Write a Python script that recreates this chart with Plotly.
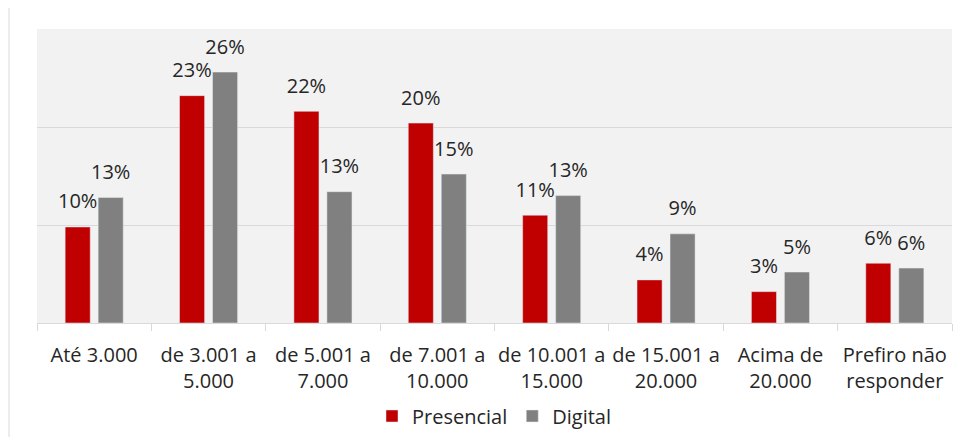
import plotly.graph_objects as go

categories = ["Até 3.000", "de 3.001 a<br>5.000", "de 5.001 a<br>7.000", "de 7.001 a<br>10.000",
              "de 10.001 a<br>15.000", "de 15.001 a<br>20.000", "Acima de<br>20.000", "Prefiro não<br>responder"]
presencial = [0.098, 0.232, 0.216, 0.204, 0.110, 0.044, 0.032, 0.061]
digital = [0.128, 0.256, 0.134, 0.152, 0.130, 0.091, 0.052, 0.056]
series = [("Presencial", presencial, "#C00000"), ("Digital", digital, "#808080")]

FONT = "Open Sans"
TXT = "#262626"
BARGAP = 0.423

fig = go.Figure()
for name, vals, color in series:
    fig.add_trace(go.Bar(x=categories, y=vals, name=name, marker_color=color,
                         offsetgroup=name, alignmentgroup="g", hoverinfo="skip"))
for name, vals, color in series:
    fig.add_trace(go.Scatter(x=categories, y=vals, mode="markers+text", offsetgroup=name,
                             alignmentgroup="g", showlegend=False, hoverinfo="skip",
                             marker=dict(size=20, opacity=0), texttemplate="%{y:.0%}",
                             textposition="top center", cliponaxis=False,
                             textfont=dict(size=20, color=TXT, family=FONT)))

fig.update_layout(
    width=954, height=429,
    margin=dict(l=29, r=10, t=21, b=114, autoexpand=False),
    paper_bgcolor="white", plot_bgcolor="#F2F2F2",
    barmode="group", bargap=BARGAP, bargroupgap=0.24,
    scattermode="group", scattergap=BARGAP,
    font=dict(family=FONT, size=20, color=TXT),
    showlegend=True,
    legend=dict(orientation="h", x=0.5, xanchor="center", yref="container", y=0.049, yanchor="middle",
                font=dict(size=20, color=TXT, family=FONT), traceorder="normal"),
    xaxis=dict(tickangle=0, showline=True, linecolor="#D9D9D9", linewidth=1, ticks="outside",
               tickson="boundaries", ticklen=7, tickcolor="#D9D9D9", showgrid=False, automargin=False,
               ticklabelstandoff=14, tickfont=dict(size=20, color=TXT, family=FONT)),
    yaxis=dict(range=[0, 0.3], dtick=0.1, showticklabels=False, showgrid=True, gridcolor="#D9D9D9",
               zeroline=False, showline=False, automargin=False),
    shapes=[dict(type="rect", xref="paper", yref="paper", x0=-28/915, x1=1.05, y0=-0.5, y1=1 + 22/294,
                 line=dict(color="#D9D9D9", width=1), fillcolor="rgba(0,0,0,0)", layer="below")],
)

fig.write_html("out.html")
